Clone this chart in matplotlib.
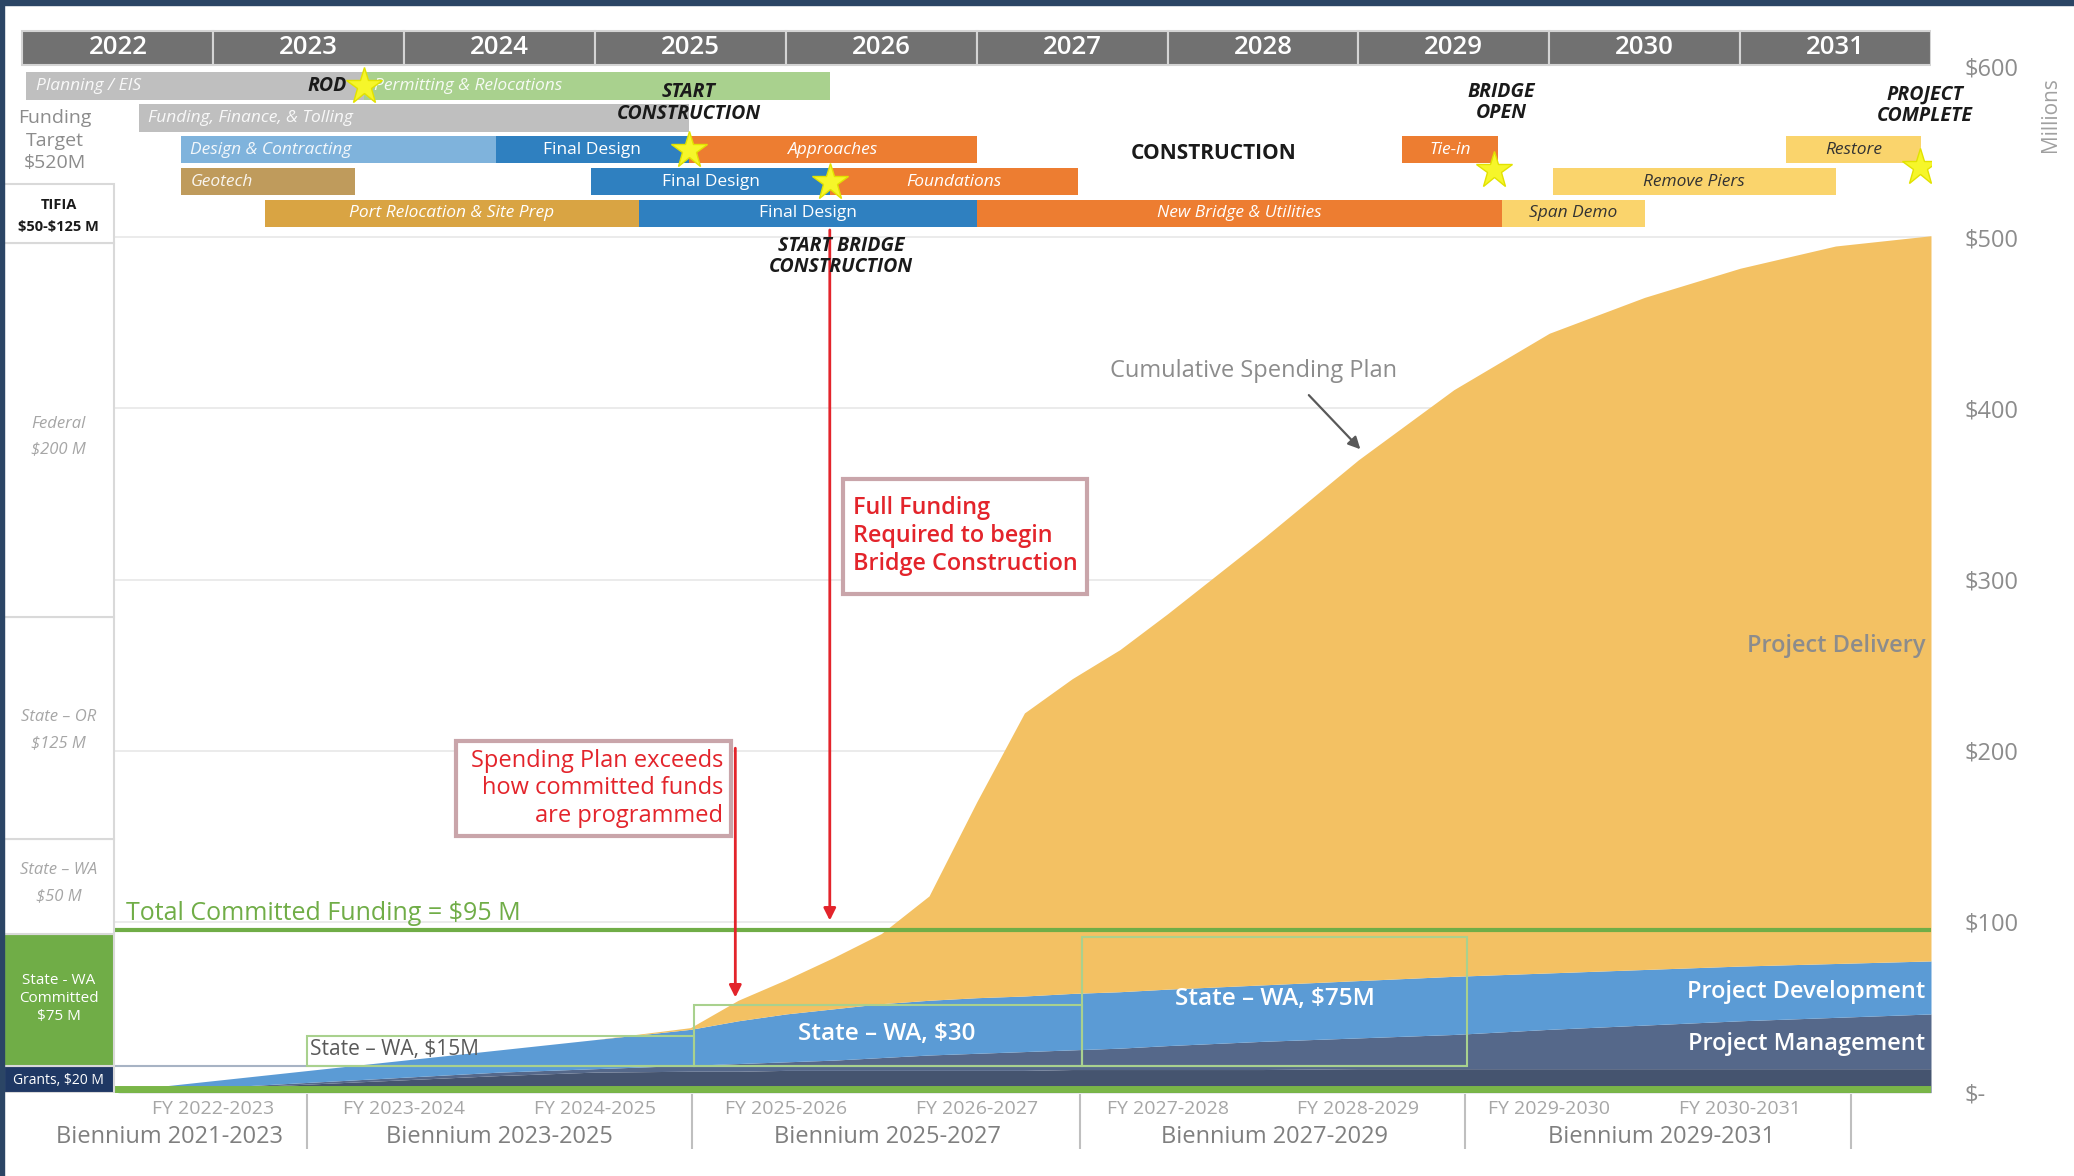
import matplotlib
matplotlib.use("Agg")
import matplotlib.pyplot as plt
from matplotlib.patches import Rectangle

plt.rcParams['font.family'] = ['Open Sans', 'DejaVu Sans']

# ---- values -------------------------------------------------------------
header_years = [2022, 2023, 2024, 2025, 2026, 2027, 2028, 2029, 2030, 2031]

task_names = ["Planning / EIS", "Permitting & Relocations", "Funding, Finance, & Tolling",
              "Design & Contracting", "Final Design", "Approaches", "Tie-in", "Restore",
              "Geotech", "Final Design", "Foundations", "Remove Piers",
              "Port Relocation & Site Prep", "Final Design", "New Bridge & Utilities", "Span Demo"]
task_rows = [0, 0, 1, 2, 2, 2, 2, 2, 3, 3, 3, 3, 4, 4, 4, 4]
task_starts = [2022.02, 2023.79, 2022.61, 2022.83, 2024.48, 2025.49, 2029.23, 2031.24,
               2022.83, 2024.98, 2026.23, 2030.02, 2023.27, 2025.23, 2027.00, 2029.75]
task_ends = [2023.79, 2026.23, 2025.49, 2024.48, 2025.49, 2027.00, 2029.73, 2031.95,
             2023.74, 2026.23, 2027.53, 2031.50, 2025.23, 2027.00, 2029.75, 2030.50]
task_kinds = ["admin", "permit", "admin", "design", "final", "build", "build", "demo",
              "geo", "final", "build", "demo", "port", "final", "build", "demo"]

milestone_x = [2023.79, 2025.49, 2026.23, 2029.71, 2031.94]
milestone_rows = [0, 2, 3, 2.65, 2.55]

milestone_text = ["ROD", "START\nCONSTRUCTION", "CONSTRUCTION", "BRIDGE\nOPEN",
                  "PROJECT\nCOMPLETE", "START BRIDGE\nCONSTRUCTION"]
milestone_text_x = [2023.70, 2025.49, 2028.24, 2029.75, 2031.97, 2026.29]
milestone_text_y = [588.5, 578.5, 549, 579, 577.5, 489]

# cumulative spending plan ($M): tops of each stacked layer
spend_x = [2022.5, 2023.0, 2023.5, 2024.0, 2024.5, 2025.0, 2025.5, 2025.75, 2026.0,
           2026.25, 2026.5, 2026.75, 2027.0, 2027.25, 2027.5, 2027.75, 2028.0, 2028.5,
           2029.0, 2029.5, 2030.0, 2030.5, 2031.0, 2031.5, 2032.0]
grants_top = [0, 2.5, 5, 7.5, 10, 12, 12.5, 12.5, 13, 13, 13, 13, 13, 13, 13.5, 13.5,
              13.5, 13.5, 14, 14, 14, 14, 14, 14, 14]
mgmt_top = [0, 3, 6, 9, 12, 14, 16, 17, 18, 19, 20.5, 22, 23, 24, 25, 26, 27.5, 30,
            32, 34, 37, 39.5, 42, 44, 46]
dev_top = [1, 7, 13, 19, 25, 31, 37, 42, 46, 49, 52, 54, 55.5, 56.5, 58, 59, 60.5, 63,
           65.5, 68, 70, 72, 74, 75.5, 77]
delivery_top = [1, 7, 13, 19, 25, 31, 38, 54, 66, 79, 93, 115, 170, 222, 242, 259, 280,
                324, 370, 411, 444, 465, 482, 495, 501]

committed_total = 95
wa_box_starts = [2023.49, 2025.52, 2027.55]
wa_box_ends = [2025.52, 2027.55, 2029.57]
wa_box_tops = [33, 51, 91]
wa_box_labels = ["State – WA, \\$15M", "State – WA, \\$30", "State – WA, \\$75M"]
wa_label_x = [2023.95, 2026.53, 2028.56]
wa_label_y = [25.5, 34, 55]

fund_edges = [0, 15.5, 93, 148.5, 278, 497]
fund_labels = ["Grants, \\$20 M", "State - WA\nCommitted\n\\$75 M", "State – WA\n\\$50 M",
               "State – OR\n\\$125 M", "Federal\n\\$200 M"]
fund_label_y = [7, 55, 122.5, 212, 383.5]

y_ticks = [0, 100, 200, 300, 400, 500, 600]
y_labels = ["\\$-", "\\$100", "\\$200", "\\$300", "\\$400", "\\$500", "\\$600"]

fy_pos = [2023, 2024, 2025, 2026, 2027, 2028, 2029, 2030, 2031]
fy_labels = ["FY 2022-2023", "FY 2023-2024", "FY 2024-2025", "FY 2025-2026",
             "FY 2026-2027", "FY 2027-2028", "FY 2028-2029", "FY 2029-2030",
             "FY 2030-2031"]
biennium_labels = ["Biennium 2021-2023", "Biennium 2023-2025", "Biennium 2025-2027",
                   "Biennium 2027-2029", "Biennium 2029-2031"]
biennium_pos = [2022.77, 2024.5, 2026.53, 2028.56, 2030.59]
biennium_bounds = [2023.49, 2025.51, 2027.54, 2029.56, 2031.58]

# ---- styling --------------------------------------------------------------
kind_colors = {"admin": "#bfbfbf", "permit": "#a9d18e", "design": "#7fb3dc",
               "final": "#2f80c0", "build": "#ed7d31", "geo": "#bf9b5c",
               "port": "#d9a443", "demo": "#fad46c"}
left_aligned = {"Planning / EIS", "Permitting & Relocations", "Funding, Finance, & Tolling",
                "Design & Contracting", "Geotech"}
RED = "#e3242b"
GREY = "#8c8c8c"


def row_y(r):
    return 588.5 - r * 18.6


fig = plt.figure(figsize=(20.74, 11.76), dpi=100)
ax = fig.add_axes([0.00164, 0.0709, 0.92941, 0.90898])
ax.set_xlim(2021.9, 2032.0)
ax.set_ylim(0, 625)
for s in ax.spines.values():
    s.set_visible(False)

# frame of the slide
fig.patches.append(Rectangle((0, 1 - 5 / 1176), 1, 5 / 1176, transform=fig.transFigure,
                             color="#2b4565", zorder=10))
fig.patches.append(Rectangle((0, 0), 4 / 2074, 1, transform=fig.transFigure,
                             color="#2b4565", zorder=10))

# year header
ax.barh(611, 1, left=header_years, height=20, align='center', color="#717171",
        edgecolor="#d4d4d4", lw=1.5, zorder=3)
for y in header_years:
    ax.text(y + 0.5, 611, str(y), color="white", fontsize=18.5, fontweight="semibold",
            ha="center", va="center", zorder=4)

# gantt bars
for name, r, x0, x1, kind in zip(task_names, task_rows, task_starts, task_ends, task_kinds):
    yc = row_y(r)
    ax.barh(yc, x1 - x0, left=x0, height=16, color=kind_colors[kind], lw=0, zorder=3)
    tc = "#333333" if kind == "demo" else "white"
    style = "normal" if name == "Final Design" else "italic"
    if name in left_aligned:
        ax.text(x0 + 0.05, yc, name, ha="left", va="center", fontsize=12.5, color=tc,
                style=style, alpha=0.9, zorder=4)
    else:
        ax.text((x0 + x1) / 2, yc, name, ha="center", va="center", fontsize=12.5,
                color=tc, style=style, zorder=4)

for t, tx, ty in zip(milestone_text, milestone_text_x, milestone_text_y):
    if t == "CONSTRUCTION":
        ax.text(tx, ty, t, ha="center", va="center", fontsize=15, fontweight="bold",
                color="#1a1a1a", zorder=7)
    else:
        ax.text(tx, ty, t, ha="right" if t == "ROD" else "center", va="center",
                fontsize=14, fontweight="bold", style="italic", color="#1a1a1a",
                linespacing=1.1, zorder=7)

ax.plot(milestone_x, [row_y(r) for r in milestone_rows], ls="none", marker="*", ms=28,
        color="#f6f62a", mec="#e2e200", zorder=6)

# left funding column
ax.bar(2022.19, [fund_edges[i + 1] - fund_edges[i] for i in range(len(fund_labels))],
       bottom=fund_edges[:-1], width=0.578,
       color=["#1f3864", "#70ad47", "white", "white", "white"],
       edgecolor="#d9d9d9", lw=1.5, zorder=3)
for i, (lab, ly) in enumerate(zip(fund_labels, fund_label_y)):
    if i == 0:
        ax.text(2022.19, ly, lab, ha="center", va="center", fontsize=10, color="white",
                zorder=4)
    elif i == 1:
        ax.text(2022.19, ly, lab, ha="center", va="center", fontsize=11, color="white",
                linespacing=1.25, zorder=4)
    else:
        ax.text(2022.19, ly, lab, ha="center", va="center", fontsize=12, color="#a6a6a6",
                style="italic", linespacing=1.8, zorder=4)
ax.add_patch(Rectangle((2021.9, 497), 0.578, 34, fc="white", ec="#d9d9d9", lw=1.5, zorder=3))
ax.text(2022.19, 512.5, "TIFIA\n\\$50-\\$125 M", ha="center", va="center", fontsize=10.5,
        fontweight="bold", color="#1a1a1a", linespacing=1.8, zorder=4)
ax.text(2022.17, 556.5, "Funding\nTarget\n\\$520M", ha="center", va="center", fontsize=14,
        color=GREY, linespacing=1.32, zorder=4)

# grid
ax.hlines([v for v in y_ticks if 0 < v < 600], 2022.48, 2032.0, color="#e8e8e8", lw=1.2,
          zorder=0)

# stacked spending layers
ax.fill_between(spend_x, 0, grants_top, color="#45546f", lw=0, zorder=1)
ax.fill_between(spend_x, grants_top, mgmt_top, color="#55688a", lw=0, zorder=1)
ax.fill_between(spend_x, mgmt_top, dev_top, color="#5b9bd5", lw=0, zorder=1)
ax.fill_between(spend_x, dev_top, delivery_top, color="#f3c163", lw=0, zorder=1)

ax.hlines(2.2, 2022.48, 2032.0, color="#7ab648", lw=5, zorder=2)
ax.hlines(15.5, 2022.48, wa_box_ends[-1], color="#a7b3c4", lw=1.5, zorder=2)
ax.hlines(committed_total, 2022.48, 2032.0, color="#70ad47", lw=3, zorder=2)
ax.text(2022.54, committed_total + 10, "Total Committed Funding = \\$95 M", color="#70ad47",
        fontsize=18, ha="left", va="center", zorder=4)

for x0, x1, top in zip(wa_box_starts, wa_box_ends, wa_box_tops):
    ax.add_patch(Rectangle((x0, 15.5), x1 - x0, top - 15.5, fill=False, ec="#a9d18e",
                           lw=1.5, zorder=2))
for i, (lab, lx, ly) in enumerate(zip(wa_box_labels, wa_label_x, wa_label_y)):
    if i == 0:
        ax.text(lx, ly, lab, color="#595959", fontsize=15, ha="center", va="center",
                zorder=4)
    else:
        ax.text(lx, ly, lab, color="white", fontsize=17.5, fontweight="semibold",
                ha="center", va="center", zorder=4)

ax.text(2031.97, 261, "Project Delivery", color=GREY, fontsize=17, fontweight="semibold",
        ha="right", va="center", zorder=4)
ax.text(2031.97, 59, "Project Development", color="white", fontsize=17,
        fontweight="semibold", ha="right", va="center", zorder=4)
ax.text(2031.97, 28.5, "Project Management", color="white", fontsize=17,
        fontweight="semibold", ha="right", va="center", zorder=4)

ax.text(2028.45, 422, "Cumulative Spending Plan", color=GREY, fontsize=17,
        ha="center", va="center", zorder=4)
ax.annotate("", xy=(2029.02, 375), xytext=(2028.73, 409),
            arrowprops=dict(arrowstyle="-|>", color="#595959", lw=1.6, mutation_scale=18),
            zorder=4)

# red call-outs
ax.annotate("", xy=(2026.23, 99), xytext=(2026.23, 506),
            arrowprops=dict(arrowstyle="-|>", color=RED, lw=2, mutation_scale=18),
            zorder=5)
ax.annotate("", xy=(2025.735, 54), xytext=(2025.735, 203),
            arrowprops=dict(arrowstyle="-|>", color=RED, lw=2, mutation_scale=18),
            zorder=5)
ax.add_patch(Rectangle((2026.30, 291.6), 1.28, 67.2, fc="white", ec="#c9a5aa", lw=3,
                       zorder=6))
ax.text(2026.35, 325.5, "Full Funding\nRequired to begin\nBridge Construction", color=RED,
        fontsize=16.8, fontweight="semibold", ha="left", va="center", linespacing=1.2,
        zorder=7)
ax.add_patch(Rectangle((2024.27, 150), 1.44, 55.7, fc="white", ec="#c9a5aa", lw=3,
                       zorder=6))
ax.text(2025.67, 178, "Spending Plan exceeds\nhow committed funds\nare programmed",
        color=RED, fontsize=17, ha="right", va="center", linespacing=1.2, zorder=7)

# axes: right $ scale, bottom fiscal years and biennia
ax.yaxis.tick_right()
ax.set_yticks(y_ticks, y_labels)
ax.tick_params(axis="y", length=0, pad=24, labelsize=17, labelcolor=GREY)
ax.set_xticks(fy_pos, fy_labels)
ax.tick_params(axis="x", length=0, pad=5, labelsize=14, labelcolor="#a6a6a6")
for lab, bx in zip(biennium_labels, biennium_pos):
    ax.text(bx, -26, lab, color="#7f7f7f", fontsize=17, ha="center", va="center",
            clip_on=False)
ax.vlines(biennium_bounds, -33, -1, color="#bfbfbf", lw=1.5, clip_on=False)

fig.text(2050 / 2074, 1 - 115 / 1176, "Millions", rotation=90, color="#a0a0a0",
         fontsize=15, ha="center", va="center")

fig.savefig("out.png", dpi=100)
